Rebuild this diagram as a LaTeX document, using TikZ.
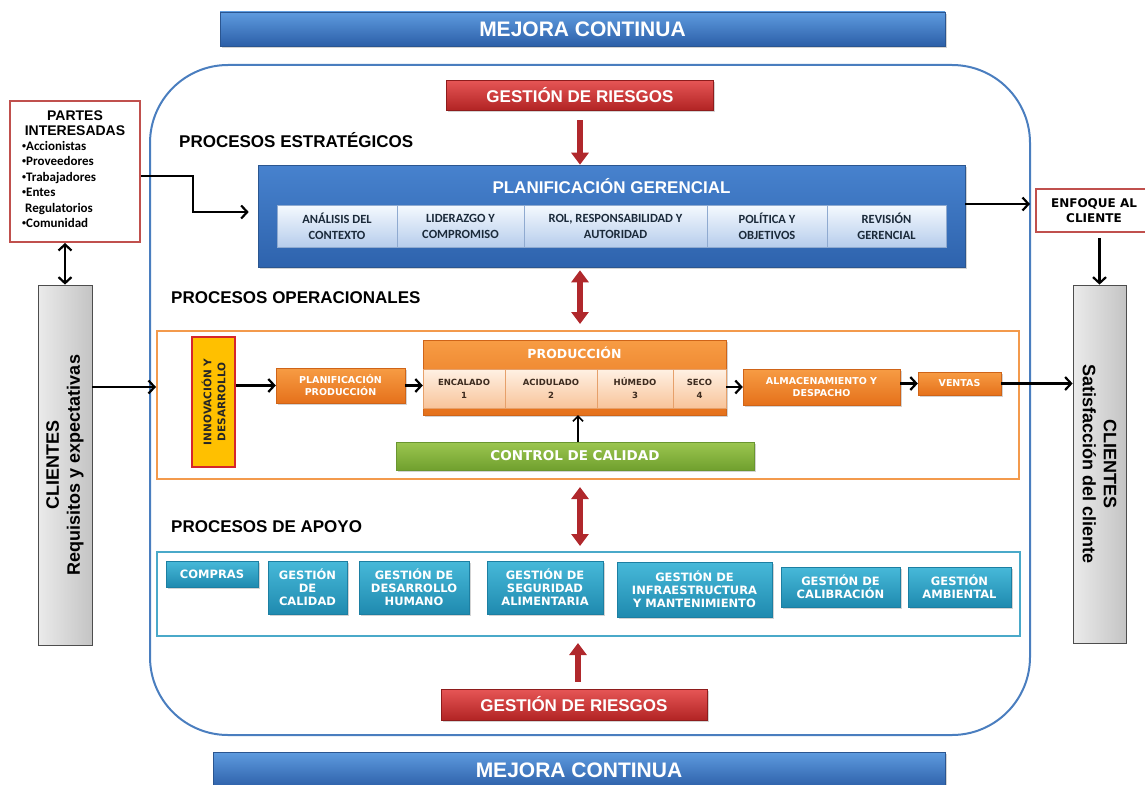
\documentclass[tikz,border=0pt]{standalone}
\usepackage{fontspec}
\setmainfont{Liberation Sans}
\newfontfamily\carl{Carlito}
\newfontfamily\dvs{DejaVu Sans}
\usetikzlibrary{arrows.meta,shadows}
\newcommand\fsz[2]{\fontsize{#1}{#2}\selectfont}
\newcommand\smbul{{\fsz{8}{8}\raisebox{2pt}{•}}}
\definecolor{bluetop}{HTML}{5E9BDF}
\definecolor{bluebot}{HTML}{2C5FA8}
\definecolor{bluebd}{HTML}{2A5590}
\definecolor{frameblue}{HTML}{4A7EBF}
\definecolor{redtop}{HTML}{E65656}
\definecolor{redbot}{HTML}{B22424}
\definecolor{redbd}{HTML}{8E1C1C}
\definecolor{redarrow}{HTML}{B0282C}
\definecolor{plantop}{HTML}{4782CE}
\definecolor{planbot}{HTML}{2E63AD}
\definecolor{planbd}{HTML}{2B568F}
\definecolor{plansubtop}{HTML}{F5F9FE}
\definecolor{plansubbot}{HTML}{B6CDEC}
\definecolor{plansubbd}{HTML}{8FAAD0}
\definecolor{plantext}{HTML}{1B2A3A}
\definecolor{ortop}{HTML}{F79C44}
\definecolor{orbot}{HTML}{E5711B}
\definecolor{orbd}{HTML}{CF6418}
\definecolor{orframe}{HTML}{F39A4C}
\definecolor{peachtop}{HTML}{FFF1E4}
\definecolor{peachbot}{HTML}{F8C49A}
\definecolor{peachbd}{HTML}{E6A06A}
\definecolor{peachtext}{HTML}{3D2B1F}
\definecolor{innfill}{HTML}{FFC000}
\definecolor{innbd}{HTML}{D6262C}
\definecolor{grtop}{HTML}{9CC650}
\definecolor{grbot}{HTML}{70A02E}
\definecolor{grbd}{HTML}{6A9630}
\definecolor{tealframe}{HTML}{4AA9C9}
\definecolor{tealtop}{HTML}{47B9D9}
\definecolor{tealbot}{HTML}{1F8AAF}
\definecolor{tealbd}{HTML}{1C7FA2}
\definecolor{partbd}{HTML}{C0504D}
\definecolor{grayl}{HTML}{EBEBEB}
\definecolor{grayr}{HTML}{C4C4C4}
\definecolor{graybd}{HTML}{4D4D4D}
\begin{document}
\begin{tikzpicture}[x=1pt,y=-1pt,
  every node/.style={inner sep=1pt},
  shad/.style={drop shadow={shadow xshift=1.5pt,shadow yshift=-2pt,opacity=0.35}},
  bluebar/.style={shad, draw=bluebd, line width=0.5pt, top color=bluetop, bottom color=bluebot, text=white, font=\bfseries\fsz{21}{24}},
  risk/.style={shad, draw=redbd, line width=0.5pt, top color=redtop, bottom color=redbot, text=white, font=\bfseries\fsz{17}{20}},
  head/.style={anchor=west, font=\bfseries\fsz{17}{20}},
  plansub/.style={draw=plansubbd, line width=0.4pt, top color=plansubtop, bottom color=plansubbot, text=plantext, font=\carl\bfseries\fsz{12.5}{16}, align=center},
  orbox/.style={shad, draw=orbd, line width=0.4pt, top color=ortop, bottom color=orbot, text=white, font=\dvs\bfseries\fsz{9.5}{12}, align=center},
  peach/.style={draw=peachbd, line width=0.4pt, top color=peachtop, bottom color=peachbot, text=peachtext, font=\dvs\bfseries\fsz{8.5}{13}, align=center},
  tealbox/.style={shad, draw=tealbd, line width=0.4pt, top color=tealtop, bottom color=tealbot, text=white, font=\dvs\bfseries\fsz{11.5}{13}, align=center},
  redarr/.style={draw=redarrow, line width=6pt, -{Triangle[length=12pt,width=17pt]}},
  redarrtwo/.style={draw=redarrow, line width=6pt, {Triangle[length=12pt,width=17pt]}-{Triangle[length=12pt,width=17pt]}},
  blk/.style={draw=black, line width=2.2pt, -{Straight Barb[length=6pt,width=13pt]}},
  blktwo/.style={draw=black, line width=2.2pt, {Straight Barb[length=6pt,width=13pt]}-{Straight Barb[length=6pt,width=13pt]}},
  gbox/.style={draw=graybd, line width=0.8pt, left color=grayl, right color=grayr},
  redframe/.style={draw=partbd, line width=2pt, fill=white}
]
\useasboundingbox (0,0) rectangle (1145,784);

% mejora continua bars
\node[bluebar, minimum width=725pt, minimum height=34pt] (mejTop) at (582.5,29) {MEJORA CONTINUA};
\node[bluebar, minimum width=732pt, minimum height=36pt] (mejBot) at (579,770) {MEJORA CONTINUA};

% main frame
\node[draw=frameblue, line width=2pt, rounded corners=78pt, minimum width=880pt, minimum height=670pt] (main) at (590,400) {};

% strategic
\node[risk, minimum width=267pt, minimum height=30pt] (riskTop) at (580,95) {GESTIÓN DE RIESGOS};
\node[head] (hEst) at (178,140) {PROCESOS ESTRATÉGICOS};
\node[shad, draw=planbd, line width=0.6pt, top color=plantop, bottom color=planbot, minimum width=707pt, minimum height=102pt] (plan) at (611.5,216) {};
\node[text=white, font=\bfseries\fsz{17}{20}] (planT) at (611.5,186) {PLANIFICACIÓN GERENCIAL};
\node[plansub, minimum width=120pt, minimum height=42pt] (ps1) at (337,226) {ANÁLISIS DEL\\CONTEXTO};
\node[plansub, minimum width=127pt, minimum height=42pt] (ps2) at (460.5,226) {LIDERAZGO Y\\COMPROMISO};
\node[plansub, minimum width=183pt, minimum height=42pt] (ps3) at (615.5,226) {ROL, RESPONSABILIDAD Y\\AUTORIDAD};
\node[plansub, minimum width=120pt, minimum height=42pt] (ps4) at (767,226) {POLÍTICA Y\\OBJETIVOS};
\node[plansub, minimum width=119pt, minimum height=42pt] (ps5) at (886.5,226) {REVISIÓN\\GERENCIAL};
\draw[redarr, shorten <=10pt] (riskTop.south) -- (riskTop.south |- plan.north);

% operational
\node[head] (hOp) at (170,298) {PROCESOS OPERACIONALES};
\node[draw=orframe, line width=2pt, minimum width=862pt, minimum height=148pt] (ops) at (588,405) {};
\draw[redarrtwo, shorten <=3pt, shorten >=6pt] (plan.south -| riskTop) -- (ops.north -| riskTop);

\node[draw=innbd, line width=1.5pt, fill=innfill, minimum width=43pt, minimum height=130pt] (inn) at (213.5,402) {};
\node[rotate=90, font=\dvs\bfseries\fsz{10.5}{14}, text=black!85, align=center] (innT) at (inn) {INNOVACIÓN Y\\DESARROLLO};
\node[orbox, minimum width=129pt, minimum height=35pt] (pp) at (340.5,385.5) {PLANIFICACIÓN\\PRODUCCIÓN};
\node[shad, draw=orbd, line width=0.4pt, top color=ortop, bottom color=orbot, minimum width=303pt, minimum height=75pt] (prod) at (574.5,377.5) {};
\node[text=white, font=\dvs\bfseries\fsz{12.5}{15}] (prodT) at (574.5,353) {PRODUCCIÓN};
\node[peach, minimum width=82pt, minimum height=39pt] (e1) at (464,388.5) {ENCALADO\\1};
\node[peach, minimum width=92pt, minimum height=39pt] (e2) at (551,388.5) {ACIDULADO\\2};
\node[peach, minimum width=76pt, minimum height=39pt] (e3) at (635,388.5) {HÚMEDO\\3};
\node[peach, minimum width=53pt, minimum height=39pt] (e4) at (699.5,388.5) {SECO\\4};
\node[orbox, minimum width=157pt, minimum height=36pt] (alm) at (821.5,387) {ALMACENAMIENTO Y\\DESPACHO};
\node[orbox, minimum width=83pt, minimum height=23pt] (ven) at (959.5,383.5) {VENTAS};
\node[shad, draw=grbd, line width=0.4pt, top color=grtop, bottom color=grbot, text=white, font=\dvs\bfseries\fsz{13.5}{16}, minimum width=358pt, minimum height=28pt] (cc) at (575,456) {CONTROL DE CALIDAD};

\draw[blk] (inn.east |- pp.west) -- (pp.west);
\draw[blk] (pp.east) -- (pp.east -| prod.west);
\draw[blk] (prod.east |- alm.west) -- (alm.west);
\draw[blk] (alm.east |- ven.west) -- (ven.west);
\draw[draw=black, line width=1.6pt, -{Straight Barb[length=5pt,width=10pt]}] (cc.north -| 578,0) -- (prod.south -| 578,0);

% support
\node[head] (hAp) at (170,527) {PROCESOS DE APOYO};
\node[draw=tealframe, line width=2pt, minimum width=863pt, minimum height=84pt] (apoyo) at (588.5,594) {};
\draw[redarrtwo, shorten <=7pt, shorten >=5pt] (ops.south -| riskTop) -- (apoyo.north -| riskTop);
\node[tealbox, minimum width=92pt, minimum height=26pt] (s1) at (212,574) {COMPRAS};
\node[tealbox, minimum width=79pt, minimum height=53pt] (s2) at (307.5,587.5) {GESTIÓN\\DE\\CALIDAD};
\node[tealbox, minimum width=110pt, minimum height=53pt] (s3) at (414,587.5) {GESTIÓN DE\\DESARROLLO\\HUMANO};
\node[tealbox, minimum width=116pt, minimum height=53pt] (s4) at (545,587.5) {GESTIÓN DE\\SEGURIDAD\\ALIMENTARIA};
\node[tealbox, minimum width=155pt, minimum height=55pt] (s5) at (694.5,589.5) {GESTIÓN DE\\INFRAESTRUCTURA\\Y MANTENIMIENTO};
\node[tealbox, minimum width=119pt, minimum height=40pt] (s6) at (840.5,587) {GESTIÓN DE\\CALIBRACIÓN};
\node[tealbox, minimum width=103pt, minimum height=40pt] (s7) at (959.5,587) {GESTIÓN\\AMBIENTAL};

\node[risk, minimum width=266pt, minimum height=31pt] (riskBot) at (574,704.5) {GESTIÓN DE RIESGOS};
\draw[redarr, shorten <=7pt, shorten >=6pt] (riskBot.north -| 578,0) -- (apoyo.south -| 578,0);

% left side
\node[redframe, minimum width=130pt, minimum height=141pt] (partes) at (75,171.5) {};
\node[font=\bfseries\fsz{14}{15.5}, align=center] (partesT) at (75,123) {PARTES\\INTERESADAS};
\node[anchor=north west, font=\carl\bfseries\fsz{13}{15.5}, align=left] (partesL) at (21,140) {\smbul Accionistas\\\smbul Proveedores\\\smbul Trabajadores\\\smbul Entes\\\hspace*{3pt}Regulatorios\\\smbul Comunidad};
\node[gbox, minimum width=54pt, minimum height=360pt] (cliL) at (65,465) {};
\node[rotate=90, font=\bfseries\fsz{18}{21}, align=center] (cliLT) at (cliL) {CLIENTES\\Requisitos y expectativas};
\draw[blktwo] (partes.south -| cliL) -- (cliL.north);
\draw[blk] (partes.east |- 0,176) -- (193,176) -- (193,212) -- (plan.west |- 0,212) [shorten >=9pt];
\draw[blk] (cliL.east |- 0,387) -- (ops.west |- 0,387);

% right side
\node[redframe, minimum width=116pt, minimum height=43pt, font=\dvs\bfseries\fsz{12}{15}, align=center] (enfoque) at (1094,210.5) {ENFOQUE AL\\CLIENTE};
\node[gbox, minimum width=53pt, minimum height=358pt] (cliR) at (1099.5,464) {};
\node[rotate=-90, font=\bfseries\fsz{18}{21}, align=center] (cliRT) at (cliR) {CLIENTES\\Satisfacción del cliente};
\draw[blk, shorten >=5pt] (plan.east |- 0,204) -- (enfoque.west |- 0,204);
\draw[blk, shorten <=5pt] (enfoque.south -| cliR) -- (cliR.north);
\draw[blk] (ven.east) -- (ven.east -| cliR.west);
\end{tikzpicture}
\end{document}
